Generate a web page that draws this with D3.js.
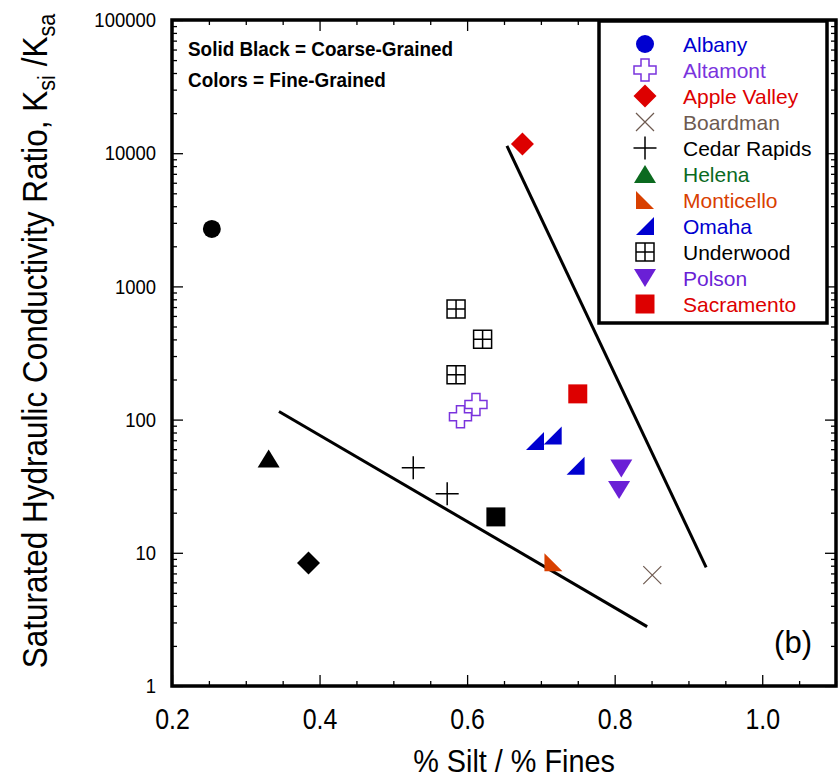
<!DOCTYPE html>
<html>
<head>
<meta charset="utf-8">
<script src="https://cdn.jsdelivr.net/npm/d3@7"></script>
<style>
  body { margin: 0; background: #fff; }
  svg text { font-family: "Liberation Sans", Arial, sans-serif; }
</style>
</head>
<body>
<div id="chart"></div>
<script>
// data (x = %silt/%fines, y = Ksi/Ksa)
let sites = ["Albany", "Altamont", "Apple Valley", "Boardman", "Cedar Rapids", "Helena",
             "Monticello", "Omaha", "Underwood", "Polson", "Sacramento"];
let siteColors = ["#0000d0", "#7a33dd", "#dd0000", "#6e5a50", "#000000", "#0b6a1f",
                  "#d94000", "#0000d0", "#000000", "#6a1fd6", "#dd0000"];

// coarse grained (solid black)
let coarseSite = ["Albany", "Helena", "Apple Valley", "Sacramento"];
let coarseX = [0.254, 0.331, 0.385, 0.639];
let coarseY = [2700, 51, 8.4, 18.6];

// fine grained (coloured)
let fineSite = ["Altamont", "Altamont", "Apple Valley", "Boardman", "Cedar Rapids", "Cedar Rapids",
                "Monticello", "Omaha", "Omaha", "Omaha", "Underwood", "Underwood", "Underwood",
                "Polson", "Polson", "Sacramento"];
let fineX = [0.591, 0.612, 0.675, 0.851, 0.527, 0.573, 0.717, 0.692, 0.716, 0.747,
             0.585, 0.621, 0.585, 0.809, 0.806, 0.750];
let fineY = [105, 130, 11700, 6.8, 43.5, 27.8, 8.5, 69, 76, 45, 676, 401, 217, 43, 29.6, 156];

// boundary lines
let lowerLineX = [0.345, 0.844], lowerLineY = [115, 2.79];
let upperLineX = [0.654, 0.924], upperLineY = [11330, 7.78];

let yTickValues = [1, 10, 100, 1000, 10000, 100000];
let xTickValues = [0.2, 0.4, 0.6, 0.8, 1.0];
let xTickLabels = ["0.2", "0.4", "0.6", "0.8", "1.0"];

let width = 840, height = 777,
    margin = ({top: 20, right: 4, bottom: 91, left: 172});

let x = d3.scaleLinear().domain([0.2, 1.1]).range([margin.left, width - margin.right]);
let y = d3.scaleLog().domain([1, 100000]).range([height - margin.bottom, margin.top]);

// marker shapes, centred on 0,0
let shapes = {
  "Albany":       {path: d3.symbol(d3.symbolCircle, 254)(), fill: true},
  "Sacramento":   {path: "M-9.5,-9.5H9.5V9.5H-9.5Z", fill: true},
  "Apple Valley": {path: "M0,-11.5L11.5,0L0,11.5L-11.5,0Z", fill: true},
  "Helena":       {path: "M0,-9L11,9H-11Z", fill: true},
  "Polson":       {path: "M-11,-9H11L0,9Z", fill: true},
  "Omaha":        {path: "M-9,9L9,-9V9Z", fill: true},
  "Monticello":   {path: "M-9,-9L9,9H-9Z", fill: true},
  "Cedar Rapids": {path: "M-11.5,0H11.5M0,-11.5V11.5", fill: false, sw: 1.5},
  "Boardman":     {path: "M-9,-9L9,9M-9,9L9,-9", fill: false, sw: 1.2},
  "Underwood":    {path: "M-9,-9H9V9H-9ZM0,-9V9M-9,0H9", fill: false, sw: 1.5},
  "Altamont":     {path: "M-4,-11H4V-4H11V4H4V11H-4V4H-11V-4H-4Z", fill: "white", sw: 1.5}
};
let colorOf = s => siteColors[sites.indexOf(s)];

let drawMarker = function(sel, site, col) {
  let sh = shapes[site];
  let p = sel.append("path").attr("d", sh.path);
  if (sh.fill === true) p.attr("fill", col);
  else p.attr("fill", sh.fill === false ? "none" : sh.fill)
        .attr("stroke", col).attr("stroke-width", sh.sw);
};

const svg = d3.select("#chart").append("svg")
    .attr("width", width).attr("height", height);

// ticks, mirrored on all four sides
let yMinor = [];
yTickValues.slice(0, -1).forEach(d => d3.range(2, 10).forEach(k => yMinor.push(d * k)));
let xMinor = d3.range(0.25, 1.1, 0.05).filter(v => !xTickValues.some(t => Math.abs(t - v) < 1e-6));
xMinor.push(1.1);

let yLeft = svg.append("g")
    .attr("transform", `translate(${margin.left},0)`)
    .call(d3.axisLeft(y).tickValues(yTickValues).tickSize(-11).tickPadding(16)
        .tickFormat(d3.format("d")));
svg.append("g").attr("transform", `translate(${margin.left},0)`)
    .call(d3.axisLeft(y).tickValues(yMinor).tickSize(-5).tickFormat(""));
svg.append("g").attr("transform", `translate(${width - margin.right},0)`)
    .call(d3.axisRight(y).tickValues(yTickValues).tickSize(-11).tickFormat(""));
svg.append("g").attr("transform", `translate(${width - margin.right},0)`)
    .call(d3.axisRight(y).tickValues(yMinor).tickSize(-5).tickFormat(""));

let xBottom = svg.append("g")
    .attr("transform", `translate(0,${height - margin.bottom})`)
    .call(d3.axisBottom(x).tickValues(xTickValues).tickSize(-11).tickPadding(20)
        .tickFormat((d, i) => xTickLabels[i]));
svg.append("g").attr("transform", `translate(0,${height - margin.bottom})`)
    .call(d3.axisBottom(x).tickValues(xMinor).tickSize(-5).tickFormat(""));
svg.append("g").attr("transform", `translate(0,${margin.top})`)
    .call(d3.axisTop(x).tickValues(xTickValues).tickSize(-11).tickFormat(""));
svg.append("g").attr("transform", `translate(0,${margin.top})`)
    .call(d3.axisTop(x).tickValues(xMinor).tickSize(-5).tickFormat(""));

svg.selectAll(".domain").remove();
svg.selectAll(".tick line").attr("stroke", "#000").attr("stroke-width", 1.3);
// condensed-looking tick labels
yLeft.selectAll("text").attr("font-size", 21).attr("fill", "#000")
    .attr("x", -16 / 0.88).attr("transform", "scale(0.88,1)");
xBottom.selectAll("text").attr("font-size", 29).attr("fill", "#000")
    .attr("y", 43).attr("dy", null)
    .attr("transform", "scale(0.86,1)");

// frame
svg.append("rect")
    .attr("x", margin.left).attr("y", margin.top)
    .attr("width", width - margin.right - margin.left)
    .attr("height", height - margin.bottom - margin.top)
    .attr("fill", "none").attr("stroke", "#000").attr("stroke-width", 3.5);

// boundary lines
let line = d3.line().x(d => x(d[0])).y(d => y(d[1]));
[[lowerLineX, lowerLineY], [upperLineX, upperLineY]].forEach(([lx, ly]) => {
  svg.append("path")
      .attr("d", line(lx.map((v, i) => [v, ly[i]])))
      .attr("fill", "none").attr("stroke", "#000").attr("stroke-width", 3);
});

// points
coarseSite.forEach((s, i) => {
  let g = svg.append("g").attr("transform", `translate(${x(coarseX[i])},${y(coarseY[i])})`);
  drawMarker(g, s, "#000");
});
fineSite.forEach((s, i) => {
  let g = svg.append("g").attr("transform", `translate(${x(fineX[i])},${y(fineY[i])})`);
  drawMarker(g, s, colorOf(s));
});

// note
svg.append("text").attr("transform", "translate(188,56) scale(0.9,1)")
    .attr("font-size", 21).attr("font-weight", "bold")
    .text("Solid Black = Coarse-Grained");
svg.append("text").attr("transform", "translate(188,87) scale(0.9,1)")
    .attr("font-size", 21).attr("font-weight", "bold")
    .text("Colors = Fine-Grained");

// legend
let legend = svg.append("g");
legend.append("rect").attr("x", 599).attr("y", 21).attr("width", 228).attr("height", 302)
    .attr("fill", "#fff").attr("stroke", "#000").attr("stroke-width", 3.5);
sites.forEach((s, i) => {
  let row = legend.append("g").attr("transform", `translate(0,${44 + i * 26})`);
  drawMarker(row.append("g").attr("transform", "translate(645,0)"), s, colorOf(s));
  row.append("text").attr("x", 683).attr("y", 7.5).attr("font-size", 21)
      .attr("fill", colorOf(s)).text(s);
});

svg.append("text").attr("x", 812).attr("y", 653).attr("text-anchor", "end")
    .attr("font-size", 31).text("(b)");

// axis titles
svg.append("text")
    .attr("transform", `translate(514,772) scale(0.9,1)`)
    .attr("text-anchor", "middle").attr("font-size", 32)
    .text("% Silt / % Fines");

let yt = svg.append("text")
    .attr("transform", "translate(47,341) rotate(-90) scale(0.9,1)")
    .attr("text-anchor", "middle").attr("font-size", 35);
yt.append("tspan").text("Saturated Hydraulic Conductivity Ratio, K");
yt.append("tspan").attr("dy", 8).attr("font-size", 24).text("si");
yt.append("tspan").attr("dy", -8).text(" /K");
yt.append("tspan").attr("dy", 8).attr("font-size", 24).text("sa");
</script>
</body>
</html>
